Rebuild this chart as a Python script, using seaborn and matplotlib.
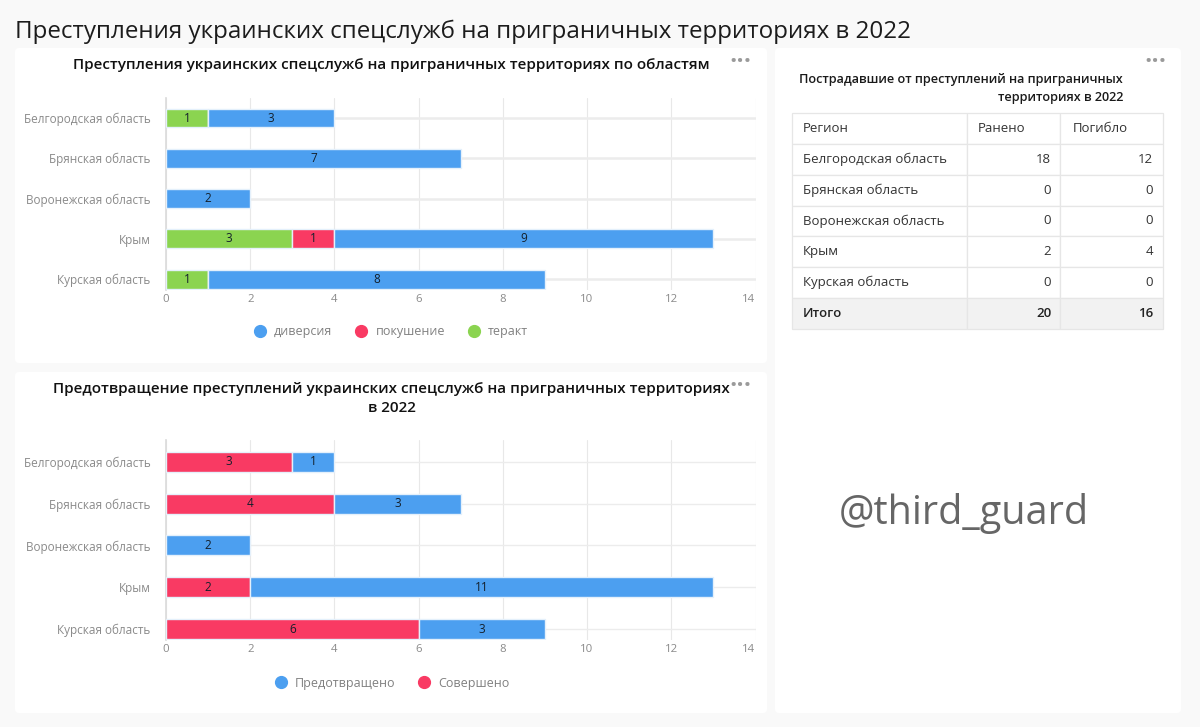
"""
plot.py: dashboard with two stacked bar charts and a table of casualties
"""
import matplotlib
matplotlib.use('Agg')
import matplotlib.pyplot as plt
from matplotlib.lines import Line2D
from matplotlib.patches import FancyBboxPatch
import numpy as np
import pandas as pd
import seaborn as sns

W, H = 1200, 727

regions = ['Белгородская область', 'Брянская область', 'Воронежская область', 'Крым', 'Курская область']

# chart 1
teract = [1, 0, 0, 3, 1]
pokushenie = [0, 0, 0, 1, 0]
diversia = [3, 7, 2, 9, 8]

# chart 2
soversheno = [3, 4, 0, 2, 6]
predotvrashcheno = [1, 3, 2, 11, 3]

# table
table_header = ['Регион', 'Ранено', 'Погибло']
raneno = [18, 0, 0, 2, 0]
pogiblo = [12, 0, 0, 4, 0]
total_label = 'Итого'
raneno_total = 20
pogiblo_total = 16

x_ticks = [0, 2, 4, 6, 8, 10, 12, 14]

BLUE = '#4c9ff0'
RED = '#f93a63'
GREEN = '#8bd450'
FONT = 'Open Sans'

sns.set_theme(style='white')
plt.rcParams['font.family'] = [FONT, 'DejaVu Sans']


def place_axes(fig, left, top, right, bottom):
    """Axes from pixel box, origin top left."""
    return fig.add_axes([left / W, 1 - bottom / H, (right - left) / W, (bottom - top) / H])


def stacked(ax, series, colors, band_lw, height):
    df = pd.DataFrame(series, index=regions)
    left = np.zeros(len(regions))
    for name, color in zip(df.columns, colors):
        vals = df[name].to_numpy()
        sns.barplot(x=vals, y=regions, order=regions, left=left, color=color, width=height,
                    edgecolor='#e4f0fb', linewidth=1, saturation=1, orient='y', zorder=3, ax=ax)
        left = left + vals
        labels = [str(v) if v else '' for v in vals]
        ax.bar_label(ax.containers[-1], labels=labels, label_type='center',
                     fontsize=8.5, color='#14202c', zorder=4)
    ax.set_xlim(0, 14)
    ax.set_xticks(x_ticks)
    ax.grid(axis='x', color='#e8e8e8', lw=0.8, zorder=0)
    for i in range(len(regions)):
        ax.axhline(i, color='#ececec', lw=band_lw, zorder=1)
    ax.tick_params(axis='y', length=0, labelsize=8.5, labelcolor='#8a8a8a', pad=11)
    ax.tick_params(axis='x', length=0, labelsize=8.2, labelcolor='#8a8a8a', pad=3)
    ax.get_xticklabels()[-1].set_ha('right')
    sns.despine(ax=ax, top=True, right=True, bottom=True)
    ax.spines['left'].set_color('#dcdcdc')
    ax.set_xlabel('')
    ax.set_ylabel('')
    ax.patch.set_alpha(0)


def dot_legend(names, colors, x, y):
    handles = [Line2D([], [], ls='', marker='o', ms=8.5, color=c, label=n) for n, c in zip(names, colors)]
    return bg.legend(handles=handles, loc='center', bbox_to_anchor=(x, y), bbox_transform=bg.transData,
                     ncol=len(names), frameon=False, fontsize=9, columnspacing=1.82, handlelength=1,
                     handletextpad=0.62, labelcolor='#808080')


fig = plt.figure(figsize=(W / 100, H / 100), dpi=100, facecolor='#f9f9f9')

# backdrop in pixel coordinates: panels, titles, watermark
bg = fig.add_axes([0, 0, 1, 1])
bg.set_xlim(0, W)
bg.set_ylim(H, 0)
bg.axis('off')

for x0, y0, x1, y1 in [(15, 48, 767, 363), (15, 372, 767, 713), (775, 48, 1181, 713)]:
    bg.add_patch(FancyBboxPatch((x0 + 4, y0 + 4), x1 - x0 - 8, y1 - y0 - 8, boxstyle='round,pad=4',
                                fc='white', ec='none'))

bg.text(15, 31.5, 'Преступления украинских спецслужб на приграничных территориях в 2022',
        fontsize=17.35, color='#1c1c1c', va='center', ha='left')
bg.text(391.5, 65.5, 'Преступления украинских спецслужб на приграничных территориях по областям',
        fontsize=10.95, weight='semibold', color='#111111', va='center', ha='center')
bg.text(391.5, 389.5, 'Предотвращение преступлений украинских спецслужб на приграничных территориях',
        fontsize=10.95, weight='semibold', color='#111111', va='center', ha='center')
bg.text(391.5, 408.5, 'в 2022', fontsize=10.95, weight='semibold', color='#111111', va='center', ha='center')
bg.text(1123, 79, 'Пострадавшие от преступлений на приграничных', fontsize=9.1, weight='semibold',
        color='#1a1a1a', va='center', ha='right')
bg.text(1123, 98, 'территориях в 2022', fontsize=9.1, weight='semibold', color='#1a1a1a',
        va='center', ha='right')
for x, y in [(740, 62), (740, 386), (1155, 62)]:
    bg.text(x, y, '•••', fontsize=14, color='#9a9a9a', va='center', ha='center')
bg.text(964, 513, '@third_guard', fontsize=28.5, color='#666666', va='center', ha='center')

# chart 1
ax1 = place_axes(fig, 166, 98, 755.5, 290)
stacked(ax1, {'теракт': teract, 'покушение': pokushenie, 'диверсия': diversia},
        [GREEN, RED, BLUE], 1.8, 0.47)
ax1.set_ylim(4.27, -0.497)
leg1 = dot_legend(['диверсия', 'покушение', 'теракт'], [BLUE, RED, GREEN], 391, 332)
bg.add_artist(leg1)

# chart 2
ax2 = place_axes(fig, 166, 440, 755.5, 640)
stacked(ax2, {'Совершено': soversheno, 'Предотвращено': predotvrashcheno}, [RED, BLUE], 1.0, 0.48)
ax2.set_ylim(4.26, -0.52)
dot_legend(['Предотвращено', 'Совершено'], [BLUE, RED], 392, 683)

# table
ax3 = place_axes(fig, 792, 113, 1163, 329)
ax3.axis('off')
rows = [table_header]
rows += [[r, str(a), str(b)] for r, a, b in zip(regions, raneno, pogiblo)]
rows.append([total_label, str(raneno_total), str(pogiblo_total)])
col_w = [175 / 371, 93 / 371, 103 / 371]
tbl = ax3.table(cellText=rows, colWidths=col_w, bbox=[0, 0, 1, 1], cellLoc='left')
tbl.auto_set_font_size(False)
for (r, c), cell in tbl.get_celld().items():
    cell.set_edgecolor('#e6e6e6')
    cell.set_linewidth(0.9)
    txt = cell.get_text()
    txt.set_fontsize(9.5)
    txt.set_color('#333333')
    if c == 0:
        cell.PAD = 0.063
    elif r == 0:
        cell.PAD = 0.12
    else:
        cell.PAD = 0.095
        txt.set_ha('right')
    if r == len(rows) - 1:
        cell.set_facecolor('#f2f2f2')
        txt.set_weight('semibold')
        txt.set_color('#222222')

fig.savefig('out.png', dpi=100, facecolor=fig.get_facecolor())
